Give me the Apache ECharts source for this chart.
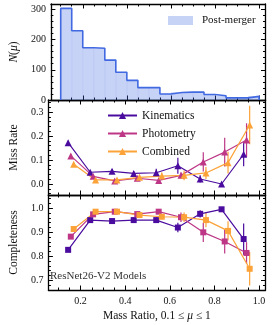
<!DOCTYPE html>
<html><head><meta charset="utf-8">
<script src="https://cdn.jsdelivr.net/npm/echarts@6/dist/echarts.min.js"></script>
<style>html,body{margin:0;padding:0;background:#fff}#c{width:273px;height:325px}</style>
</head><body><div id="c"></div>
<script>
// ---- data ----
const histEdges = [0.10,0.15,0.20,0.25,0.30,0.35,0.40,0.45,0.50,0.55,0.60,0.65,0.70,0.75,0.80,0.85,0.90,0.95,1.00];
const histCounts = [303,229,173,171,132,92,65,41,41,20,25,26,26,18,14,7,7,12];

const kinX  = [0.144,0.243,0.341,0.438,0.539,0.636,0.736,0.832,0.931];
const photX = [0.156,0.256,0.353,0.454,0.550,0.650,0.750,0.846,0.944];
const combX = [0.169,0.267,0.363,0.464,0.564,0.664,0.762,0.861,0.958];

const kinMiss  = [0.172,0.049,0.053,0.044,0.047,0.076,0.021,0.000,0.124];
const kinMissErr  = [0.008,0.006,0.008,0.010,0.017,0.033,0.015,0.000,0.050];
const photMiss = [0.117,0.032,0.013,0.024,0.015,0.036,0.092,0.133,0.183];
const photMissErr = [0.008,0.006,0.006,0.008,0.008,0.012,0.040,0.060,0.070];
const combMiss = [0.082,0.017,0.017,0.028,0.033,0.036,0.046,0.089,0.246];
const combMissErr = [0.006,0.005,0.006,0.008,0.015,0.020,0.025,0.045,0.080];

const kinComp  = [0.827,0.951,0.947,0.951,0.951,0.920,0.977,0.996,0.872];
const kinCompErr  = [0.008,0.008,0.008,0.010,0.012,0.020,0.015,0.004,0.065];
const photComp = [0.882,0.975,0.986,0.976,0.986,0.963,0.900,0.862,0.814];
const photCompErr = [0.008,0.006,0.005,0.008,0.008,0.020,0.040,0.050,0.045];
const combComp = [0.914,0.986,0.986,0.972,0.965,0.963,0.951,0.906,0.748];
const combCompErr = [0.006,0.005,0.005,0.008,0.010,0.020,0.030,0.040,0.070];

const xMajor = [0.2,0.4,0.6,0.8,1.0];
const xMinor = [0.1,0.15,0.25,0.3,0.35,0.45,0.5,0.55,0.65,0.7,0.75,0.85,0.9,0.95];
const y0Major = [0,100,200,300];
const y0Minor = [20,40,60,80,120,140,160,180,220,240,260,280];
const y1Major = [0,0.1,0.2,0.3];
const y1Minor = [-0.04,-0.02,0.02,0.04,0.06,0.08,0.12,0.14,0.16,0.18,0.22,0.24,0.26,0.28,0.32,0.34];
const y2Major = [0.7,0.8,0.9,1.0];
const y2Minor = [0.66,0.68,0.72,0.74,0.76,0.78,0.82,0.84,0.86,0.88,0.92,0.94,0.96,0.98,1.02,1.04];

const names = ['Kinematics','Photometry','Combined'];
const colors = ['#4a0c9e','#bd3786','#fba238'];

// ---- layout / style ----
const FONT = 'Liberation Serif';
const TXT = '#111';
const xRange = [0.0555, 1.029];
const yRanges = [[0, 317.6],[-0.0458, 0.35],[0.6596, 1.0556]];
const gridTops = [4, 100, 195];
const gridHeights = [96, 95, 95];

function axis(dim, g, pos, range, ticks, len, withLine, labels, fmt) {
  return {
    type: 'value', gridIndex: g, position: pos, min: range[0], max: range[1],
    axisLine: {show: withLine, onZero: false, lineStyle: {color: '#000', width: 1.3}},
    axisTick: {show: true, inside: true, length: len, customValues: ticks, lineStyle: {color: '#000', width: 1}},
    axisLabel: labels ? {show: true, customValues: labels, formatter: fmt, fontFamily: FONT, fontSize: 10, color: TXT, margin: dim === 'x' ? 6 : 5} : {show: false},
    splitLine: {show: false}
  };
}

const xAxes = [], yAxes = [];
const yMaj = [y0Major, y1Major, y2Major], yMin = [y0Minor, y1Minor, y2Minor];
const yFmt = [v => String(Math.round(v)), v => v.toFixed(1), v => v.toFixed(1)];
const yNames = ['{i|N}({i|μ})', 'Miss Rate', 'Completeness'];
for (let g = 0; g < 3; g++) {
  const xb = axis('x', g, 'bottom', xRange, xMajor, 4.5, true, g === 2 ? xMajor : null, v => v.toFixed(1));
  if (g === 2) {
    xb.name = 'Mass Ratio, 0.1 ≤ {i|μ} ≤ 1';
    xb.nameLocation = 'middle'; xb.nameGap = 20;
    xb.nameTextStyle = {fontFamily: FONT, fontSize: 11.5, color: TXT, rich: {i: {fontFamily: FONT, fontSize: 11.5, fontStyle: 'italic', color: TXT}}};
  }
  xAxes.push(xb);
  xAxes.push(axis('x', g, 'bottom', xRange, xMinor, 2.5, false, null));
  xAxes.push(axis('x', g, 'top', xRange, xMajor, 4.5, true, null));
  xAxes.push(axis('x', g, 'top', xRange, xMinor, 2.5, false, null));
  const yl = axis('y', g, 'left', yRanges[g], yMaj[g], 4.5, true, yMaj[g], yFmt[g]);
  yl.name = yNames[g]; yl.nameLocation = 'middle'; yl.nameRotate = 90; yl.nameGap = 21;
  yl.nameTextStyle = {fontFamily: FONT, fontSize: 11.5, color: TXT, rich: {i: {fontFamily: FONT, fontSize: 11.5, fontStyle: 'italic', color: TXT}}};
  yAxes.push(yl);
  yAxes.push(axis('y', g, 'left', yRanges[g], yMin[g], 2.5, false, null));
  yAxes.push(axis('y', g, 'right', yRanges[g], yMaj[g], 4.5, true, null));
  yAxes.push(axis('y', g, 'right', yRanges[g], yMin[g], 2.5, false, null));
}

const grids = gridTops.map((t, i) => ({left: 38, top: t, width: 227.5, height: gridHeights[i]}));

// histogram
const histData = histCounts.map((c, i) => [histEdges[i], histEdges[i+1], c]);
const outline = [[histEdges[0], 0]];
histCounts.forEach((c, i) => outline.push([histEdges[i], c]));
outline.push([histEdges[histEdges.length-1], histCounts[histCounts.length-1]]);
outline.push([histEdges[histEdges.length-1], 0]);

const series = [];
series.push({
  type: 'custom', name: 'Post-merger', xAxisIndex: 0, yAxisIndex: 0,
  itemStyle: {color: 'rgba(65,105,225,0.3)'},
  encode: {x: [0, 1], y: 2},
  data: histData,
  renderItem: (params, api) => {
    const p0 = api.coord([api.value(0), api.value(2)]);
    const p1 = api.coord([api.value(1), 0]);
    return {type: 'rect', shape: {x: p0[0], y: p0[1], width: p1[0]-p0[0], height: p1[1]-p0[1]},
      style: {fill: 'rgba(65,105,225,0.3)', stroke: 'rgba(65,105,225,0.08)', lineWidth: 0.5}};
  }
});
series.push({
  type: 'line', xAxisIndex: 0, yAxisIndex: 0, step: 'end', symbol: 'none', data: outline,
  lineStyle: {color: '#4169e1', width: 1.6}, z: 3
});

function errSeries(g, xs, ys, es, color) {
  return {
    type: 'custom', xAxisIndex: 4*g, yAxisIndex: 4*g, z: 2,
    data: xs.map((x, i) => [x, ys[i], es[i]]),
    encode: {x: 0, y: 1},
    renderItem: (params, api) => {
      const x = api.value(0), y = api.value(1), e = api.value(2);
      const a = api.coord([x, y - e]), b = api.coord([x, y + e]);
      return {type: 'line', shape: {x1: a[0], y1: a[1], x2: b[0], y2: b[1]}, style: {stroke: color, lineWidth: 1.2}};
    }
  };
}
function lineSeries(g, name, xs, ys, color, sym, size) {
  return {
    type: 'line', name: name, xAxisIndex: 4*g, yAxisIndex: 4*g, z: 3,
    data: xs.map((x, i) => [x, ys[i]]),
    symbol: sym, symbolSize: size, showSymbol: true,
    lineStyle: {color: color, width: 1.2}, itemStyle: {color: color}
  };
}
const allX = [kinX, photX, combX];
const miss = [kinMiss, photMiss, combMiss], missE = [kinMissErr, photMissErr, combMissErr];
const comp = [kinComp, photComp, combComp], compE = [kinCompErr, photCompErr, combCompErr];
for (let k = 0; k < 3; k++) series.push(lineSeries(1, names[k], allX[k], miss[k], colors[k], 'triangle', 7));
for (let k = 0; k < 3; k++) series.push(errSeries(1, allX[k], miss[k], missE[k], colors[k]));
for (let k = 0; k < 3; k++) series.push(lineSeries(2, names[k], allX[k], comp[k], colors[k], 'rect', 6));
for (let k = 0; k < 3; k++) series.push(errSeries(2, allX[k], comp[k], compE[k], colors[k]));

const option = {
  animation: false,
  backgroundColor: '#fff',
  grid: grids,
  xAxis: xAxes,
  yAxis: yAxes,
  legend: [
    {data: [{name: 'Post-merger', icon: 'rect', itemStyle: {color: 'rgba(65,105,225,0.3)', borderWidth: 0}}],
     left: 168, top: 15, padding: 0, itemWidth: 25, itemHeight: 9, selectedMode: false,
     textStyle: {fontFamily: FONT, fontSize: 11, color: TXT, padding: [0,0,0,4]}},
    {data: names, orient: 'vertical', left: 107, top: 109.5, padding: 0, itemWidth: 29, itemHeight: 9, itemGap: 6, selectedMode: false,
     textStyle: {fontFamily: FONT, fontSize: 11.5, lineHeight: 11, color: TXT}}
  ],
  graphic: [{type: 'text', left: 50, top: 271, style: {text: 'ResNet26-V2 Models', fontFamily: FONT, fontSize: 11, fill: '#333'}}],
  series: series
};
const chart = echarts.init(document.getElementById('c'), null, {renderer: 'canvas'});
chart.setOption(option);
</script></body></html>
